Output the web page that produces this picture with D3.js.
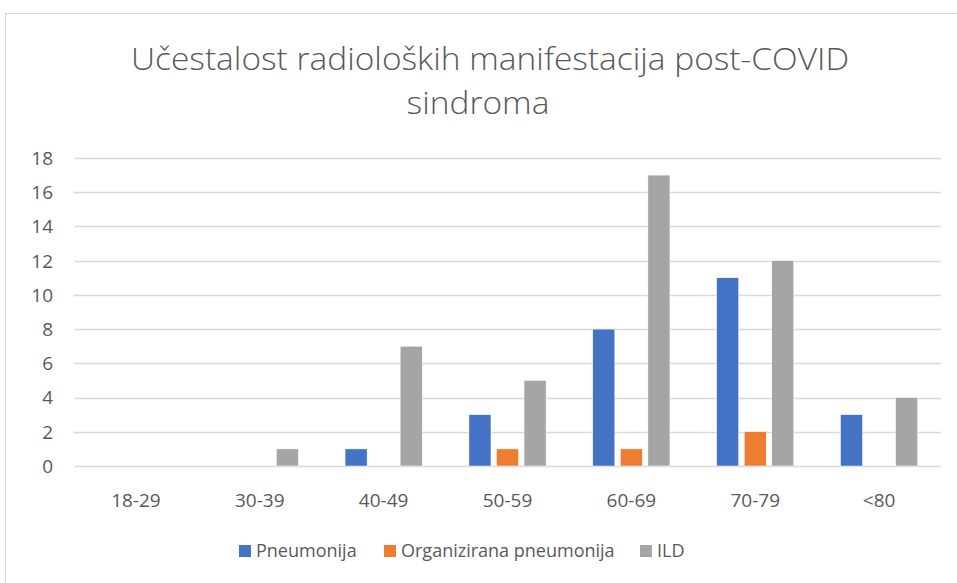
<!DOCTYPE html>
<html lang="hr">
<head>
  <meta charset="UTF-8" />
  <title>Učestalost radioloških manifestacija post-COVID sindroma</title>
  <script src="https://d3js.org/d3.v7.min.js"></script>
  <style>
    body { margin: 0; background: #fff; }
    svg { display: block; font-family: 'Open Sans', 'Noto Sans', sans-serif; }
    .grid line { stroke: #d9d9d9; stroke-width: 1.3px; }
    .tick-label { fill: #595959; font-size: 19px; }
    .legend-label { fill: #595959; font-size: 18px; }
  </style>
</head>
<body>
  <svg id="chart" width="957" height="583"></svg>
  <script>
    const categories = ["18-29", "30-39", "40-49", "50-59", "60-69", "70-79", "<80"];
    const seriesNames = ["Pneumonija", "Organizirana pneumonija", "ILD"];
    const pneumonija = [0, 0, 1, 3, 8, 11, 3];
    const organizirana = [0, 0, 0, 1, 1, 2, 0];
    const ild = [0, 1, 7, 5, 17, 12, 4];
    const yTicks = [0, 2, 4, 6, 8, 10, 12, 14, 16, 18];
    const colors = ["#4472C4", "#ED7D31", "#A5A5A5"];
    const seriesValues = [pneumonija, organizirana, ild];

    const plot = { left: 74, right: 941, top: 158, bottom: 466 };

    const svg = d3.select("#chart");

    // outer chart border
    svg.append("rect")
      .attr("x", 5.5).attr("y", 13.5)
      .attr("width", 1000).attr("height", 600)
      .attr("fill", "#fff").attr("stroke", "#d9d9d9");

    // title: tall glyphs squeezed to the width of the reference (Calibri Light look)
    const TITLE_FS = 32;
    const title = svg.append("g").attr("fill", "#595959")
      .attr("font-size", TITLE_FS).attr("font-weight", 300);
    const t1 = title.append("text").attr("x", 131).attr("y", 70)
      .text("Učestalost radioloških manifestacija post-COVID");
    const ratio = 718 / t1.node().getComputedTextLength();
    t1.attr("textLength", 718).attr("lengthAdjust", "spacingAndGlyphs");
    const t2 = title.append("text").attr("y", 114).text("sindroma");
    const w2 = t2.node().getComputedTextLength() * ratio;
    t2.attr("x", 478 - w2 / 2).attr("textLength", w2).attr("lengthAdjust", "spacingAndGlyphs");

    const x = d3.scaleBand().domain(categories).range([plot.left, plot.right]);
    const y = d3.scaleLinear().domain([0, 18]).range([plot.bottom, plot.top]);

    // gridlines
    svg.append("g").attr("class", "grid")
      .selectAll("line").data(yTicks).join("line")
      .attr("x1", plot.left).attr("x2", plot.right)
      .attr("y1", d => Math.round(y(d)) + 0.5).attr("y2", d => Math.round(y(d)) + 0.5);

    // y labels
    svg.append("g").selectAll("text").data(yTicks).join("text")
      .attr("class", "tick-label")
      .attr("x", 53).attr("y", d => y(d)).attr("dy", "0.36em")
      .attr("text-anchor", "end")
      .text(d => d);

    // x labels
    svg.append("g").selectAll("text").data(categories).join("text")
      .attr("class", "tick-label")
      .attr("x", d => x(d) + x.bandwidth() / 2).attr("y", 500).attr("dy", "0.36em")
      .attr("text-anchor", "middle")
      .text(d => d);

    // bars
    const barW = x.bandwidth() * 0.178;
    const step = barW * 1.25;
    const inner = d3.scaleBand().domain(seriesNames).range([0, step * 3]);

    seriesNames.forEach((name, si) => {
      svg.append("g").selectAll("rect")
        .data(categories.map((c, i) => ({ c, v: seriesValues[si][i] })).filter(d => d.v > 0))
        .join("rect")
        .attr("x", d => x(d.c) + x.bandwidth() / 2 - (step * 3 - (step - barW)) / 2 + inner(name))
        .attr("y", d => y(d.v))
        .attr("width", barW)
        .attr("height", d => y(0) - y(d.v))
        .attr("fill", colors[si])
        .attr("stroke", "#fff").attr("stroke-width", 0.5);
    });

    // legend
    const legendItems = [
      { name: seriesNames[0], sx: 239 },
      { name: seriesNames[1], sx: 384 },
      { name: seriesNames[2], sx: 640 }
    ];
    const lg = svg.append("g");
    legendItems.forEach((d, i) => {
      lg.append("rect").attr("x", d.sx).attr("y", 545).attr("width", 12).attr("height", 12)
        .attr("fill", colors[i]);
      lg.append("text").attr("class", "legend-label")
        .attr("x", d.sx + 17).attr("y", 551).attr("dy", "0.36em")
        .text(d.name);
    });
  </script>
</body>
</html>
